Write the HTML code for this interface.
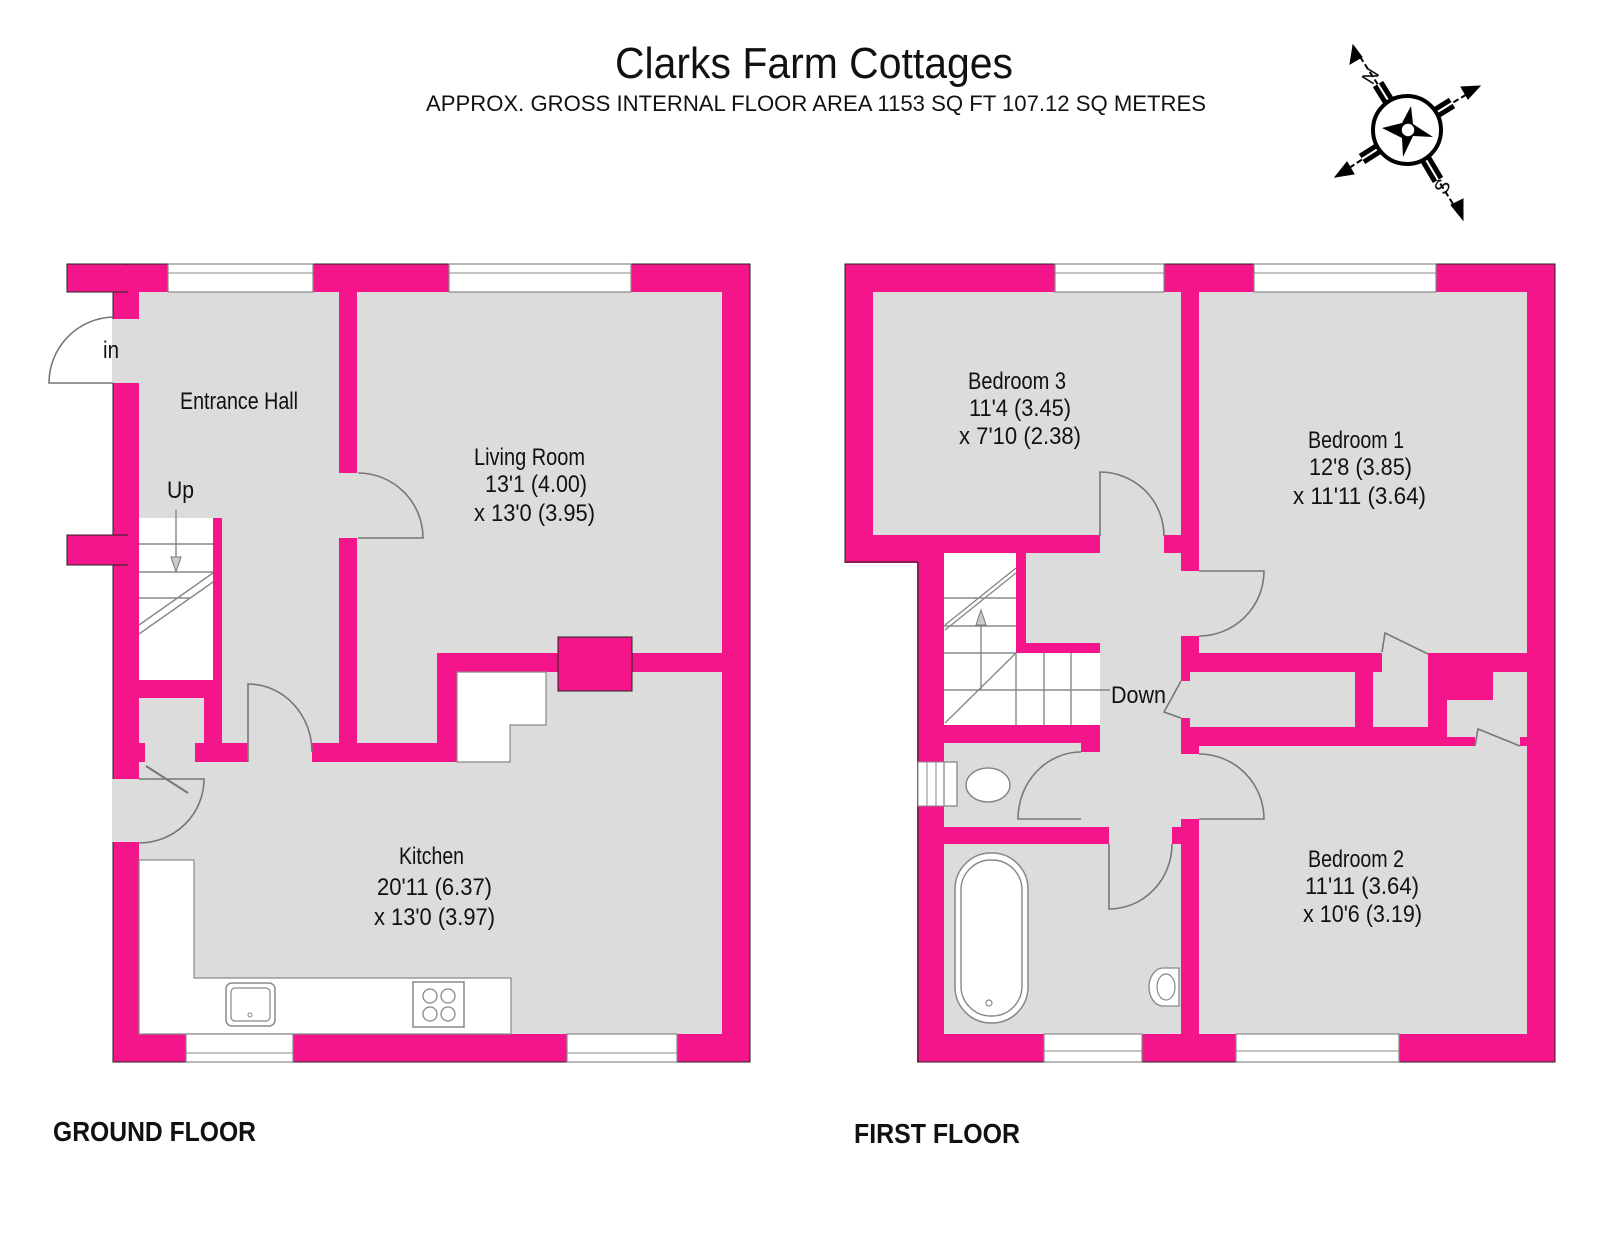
<!DOCTYPE html>
<html><head><meta charset="utf-8"><style>
html,body{margin:0;padding:0;background:#fff;}
svg{display:block;}
text{font-family:"Liberation Sans",Arial,sans-serif;fill:#111;}
</style></head><body>
<svg width="1600" height="1236" viewBox="0 0 1600 1236" xmlns="http://www.w3.org/2000/svg">
<defs>
<style>
.p{fill:#F5158A;stroke:#222;stroke-width:1}
.g{fill:#DCDCDC;stroke:none}
.w{fill:#fff;stroke:none}
.d{fill:none;stroke:#777;stroke-width:1.6}
.l{fill:none;stroke:#888;stroke-width:1.4}
.win{fill:#fff;stroke:#888;stroke-width:1.2}
.t{font-size:24px}
</style>
</defs>

<!-- Titles -->
<text x="814" y="78" font-size="44" text-anchor="middle" textLength="398" lengthAdjust="spacingAndGlyphs">Clarks Farm Cottages</text>
<text x="426" y="111" font-size="22" textLength="780" lengthAdjust="spacingAndGlyphs">APPROX. GROSS INTERNAL FLOOR AREA 1153 SQ FT 107.12 SQ METRES</text>

<!-- Compass -->
<g stroke="#000" fill="#000">
  <line x1="1407" y1="130" x2="1357" y2="52" stroke-width="2" stroke-dasharray="6,3"/>
  <line x1="1407" y1="130" x2="1474" y2="90" stroke-width="2" stroke-dasharray="6,3"/>
  <line x1="1407" y1="130" x2="1340" y2="174" stroke-width="2" stroke-dasharray="6,3"/>
  <line x1="1407" y1="130" x2="1458" y2="212" stroke-width="2" stroke-dasharray="6,3"/>
  <polygon points="1353,45 1350,64 1362,57"/>
  <polygon points="1480,86 1461,87 1468,99"/>
  <polygon points="1335,177 1347,162 1354,174"/>
  <polygon points="1463,220 1451,205 1463,199"/>
  <line x1="1391" y1="105" x2="1378" y2="84" stroke-width="12"/>
  <line x1="1431" y1="116" x2="1452" y2="103" stroke-width="12"/>
  <line x1="1384" y1="145" x2="1362" y2="159" stroke-width="12"/>
  <line x1="1425" y1="158" x2="1438" y2="180" stroke-width="12"/>
</g>
<g stroke="#fff" stroke-width="2">
  <line x1="1391" y1="105" x2="1378" y2="84"/>
  <line x1="1431" y1="116" x2="1452" y2="103"/>
  <line x1="1384" y1="145" x2="1362" y2="159"/>
  <line x1="1425" y1="158" x2="1438" y2="180"/>
</g>
<circle cx="1407" cy="130" r="34" fill="#fff" stroke="#000" stroke-width="4"/>
<polygon points="1411,106 1413,124 1433,137 1413,136 1403,157 1402,138 1382,128 1402,123" fill="#000"/>
<circle cx="1408" cy="130" r="7" fill="#fff" stroke="#000" stroke-width="1.5"/>
<text x="1372" y="82" font-size="20" transform="rotate(-58 1372 77)" text-anchor="middle">N</text>
<text x="1443" y="193" font-size="20" transform="rotate(-58 1443 187)" text-anchor="middle">S</text>

<!-- ================= GROUND FLOOR ================= -->
<rect class="p" x="113" y="264" width="637" height="798"/>
<rect class="p" x="67" y="264" width="60" height="28"/>
<rect class="p" x="67" y="535" width="60" height="30"/>
<rect x="112" y="265" width="16" height="26" fill="#F5158A"/>
<rect x="112" y="536" width="16" height="28" fill="#F5158A"/>

<rect class="g" x="139" y="292" width="200" height="226"/>
<rect class="g" x="222" y="517" width="117" height="226"/>
<rect class="w" x="139" y="518" width="74" height="162" stroke="#888" stroke-width="1"/>
<rect class="g" x="139" y="698" width="65" height="45"/>
<rect class="g" x="145" y="742" width="50" height="21"/>
<rect class="g" x="357" y="292" width="365" height="361"/>
<rect class="g" x="357" y="652" width="80" height="91"/>
<rect class="g" x="339" y="473" width="19" height="65"/>
<rect class="g" x="139" y="762" width="583" height="272"/>
<rect class="g" x="457" y="672" width="265" height="91"/>
<rect class="g" x="248" y="742" width="64" height="21"/>
<rect class="g" x="112" y="319" width="28" height="64"/>
<rect class="g" x="112" y="779" width="28" height="63"/>
<polygon points="457,672 546,672 546,725 510,725 510,762 457,762" fill="#fff" stroke="#888" stroke-width="1.2"/>
<rect class="p" x="558" y="637" width="74" height="54"/>
<rect x="559" y="652" width="72" height="21" fill="#F5158A"/>

<g class="l">
  <line x1="139" y1="544" x2="213" y2="544"/>
  <line x1="139" y1="572" x2="213" y2="572"/>
  <line x1="139" y1="598" x2="190" y2="598"/>
  <line x1="139" y1="625" x2="213" y2="573"/>
  <line x1="139" y1="634" x2="213" y2="582"/>
  <line x1="176" y1="510" x2="176" y2="560"/>
</g>
<polygon points="171,557 181,557 176,572" fill="#ccc" stroke="#777" stroke-width="1"/>

<polygon points="139,860 194,860 194,978 511,978 511,1034 139,1034" fill="#fff" stroke="#888" stroke-width="1.2"/>
<rect x="226" y="983" width="49" height="43" rx="6" fill="#fff" stroke="#888" stroke-width="1.5"/>
<rect x="231" y="988" width="39" height="33" rx="4" fill="none" stroke="#888" stroke-width="1.2"/>
<circle cx="250" cy="1015" r="2" fill="none" stroke="#888"/>
<rect x="413" y="982" width="51" height="45" fill="#fff" stroke="#888" stroke-width="1.5"/>
<g fill="none" stroke="#888" stroke-width="1.3">
<circle cx="430" cy="996" r="7"/><circle cx="448" cy="996" r="7"/>
<circle cx="430" cy="1014" r="7"/><circle cx="448" cy="1014" r="7"/>
</g>

<rect class="win" x="168" y="264" width="145" height="28"/><line x1="168" y1="273" x2="313" y2="273" stroke="#888"/>
<rect class="win" x="449" y="264" width="182" height="28"/><line x1="449" y1="273" x2="631" y2="273" stroke="#888"/>
<rect class="win" x="186" y="1034" width="107" height="28"/><line x1="186" y1="1053" x2="293" y2="1053" stroke="#888"/>
<rect class="win" x="567" y="1034" width="110" height="28"/><line x1="567" y1="1053" x2="677" y2="1053" stroke="#888"/>

<path class="d" d="M113,317 A66,66 0 0 0 49,383 L113,383"/>
<path class="d" d="M358,473 A65,65 0 0 1 423,538 L358,538"/>
<path class="d" d="M248,762 L248,684 A64,68 0 0 1 312,752"/>
<path class="d" d="M139,779 L204,779 A65,64 0 0 1 139,843"/>
<line x1="146" y1="766" x2="188" y2="793" stroke="#777" stroke-width="2"/>

<text class="t" x="103" y="358" textLength="16" lengthAdjust="spacingAndGlyphs">in</text>
<text class="t" x="180" y="409" textLength="118" lengthAdjust="spacingAndGlyphs">Entrance Hall</text>
<text class="t" x="167" y="498" textLength="27" lengthAdjust="spacingAndGlyphs">Up</text>
<text class="t" x="474" y="465" textLength="111" lengthAdjust="spacingAndGlyphs">Living Room</text>
<text class="t" x="485" y="492" textLength="102" lengthAdjust="spacingAndGlyphs">13'1 (4.00)</text>
<text class="t" x="474" y="521" textLength="121" lengthAdjust="spacingAndGlyphs">x 13'0 (3.95)</text>
<text class="t" x="399" y="864" textLength="65" lengthAdjust="spacingAndGlyphs">Kitchen</text>
<text class="t" x="377" y="895" textLength="115" lengthAdjust="spacingAndGlyphs">20'11 (6.37)</text>
<text class="t" x="374" y="925" textLength="121" lengthAdjust="spacingAndGlyphs">x 13'0 (3.97)</text>

<!-- ================= FIRST FLOOR ================= -->
<rect class="p" x="845" y="264" width="710" height="798"/>
<rect x="844" y="563" width="73" height="500" fill="#fff"/>
<line x1="845" y1="562" x2="918" y2="562" stroke="#222"/>
<line x1="918" y1="562" x2="918" y2="1062" stroke="#222"/>

<rect class="g" x="873" y="292" width="308" height="243"/>
<rect class="g" x="1199" y="292" width="328" height="361"/>
<rect class="g" x="1100" y="534" width="64" height="20"/>
<rect class="g" x="1100" y="553" width="81" height="274"/>
<rect class="g" x="1026" y="553" width="75" height="90"/>
<rect class="g" x="1180" y="571" width="20" height="65"/>
<rect class="w" x="944" y="553" width="72" height="172"/>
<rect class="w" x="1015" y="653" width="85" height="72"/>
<rect class="g" x="944" y="743" width="137" height="84"/>
<rect class="g" x="1080" y="752" width="21" height="75"/>
<rect class="g" x="944" y="844" width="237" height="190"/>
<rect class="g" x="1109" y="826" width="63" height="19"/>
<rect class="g" x="1180" y="681" width="11" height="37"/>
<rect class="g" x="1190" y="672" width="165" height="55"/>
<rect class="g" x="1373" y="672" width="55" height="55"/>
<rect class="g" x="1382" y="652" width="46" height="21"/>
<rect class="g" x="1447" y="700" width="80" height="37"/>
<rect class="g" x="1493" y="672" width="34" height="29"/>
<rect class="g" x="1475" y="736" width="45" height="11"/>
<rect class="g" x="1199" y="746" width="328" height="288"/>
<rect class="g" x="1180" y="754" width="20" height="65"/>
<rect x="918" y="762" width="26" height="44" fill="#fff" stroke="#888" stroke-width="1"/>
<line x1="927" y1="762" x2="927" y2="806" stroke="#888"/>
<line x1="936" y1="762" x2="936" y2="806" stroke="#888"/>

<g class="l">
  <line x1="944" y1="598" x2="1016" y2="598"/>
  <line x1="944" y1="626" x2="1016" y2="626"/>
  <line x1="944" y1="653" x2="1016" y2="653"/>
  <line x1="944" y1="690" x2="1110" y2="690"/>
  <line x1="1016" y1="653" x2="1016" y2="725"/>
  <line x1="1044" y1="653" x2="1044" y2="725"/>
  <line x1="1071" y1="653" x2="1071" y2="725"/>
  <line x1="945" y1="723" x2="1016" y2="653"/>
  <line x1="945" y1="630" x2="1016" y2="573"/>
  <line x1="945" y1="625" x2="1016" y2="568"/>
  <line x1="981" y1="690" x2="981" y2="622"/>
</g>
<polygon points="976,625 986,625 981,610" fill="#ccc" stroke="#777" stroke-width="1"/>

<rect x="944" y="762" width="13" height="44" fill="#fff" stroke="#888" stroke-width="1.3"/>
<ellipse cx="988" cy="785" rx="22" ry="17" fill="#fff" stroke="#888" stroke-width="1.5"/>
<rect x="955" y="853" width="73" height="170" rx="36" fill="#fff" stroke="#888" stroke-width="1.5"/>
<rect x="961" y="860" width="61" height="156" rx="30" fill="#fff" stroke="#888" stroke-width="1.4"/>
<circle cx="989" cy="1003" r="3" fill="none" stroke="#888" stroke-width="1.2"/>
<path d="M1179,968 L1163,968 A14,19 0 0 0 1163,1006 L1179,1006 Z" fill="#fff" stroke="#888" stroke-width="1.3"/>
<ellipse cx="1166" cy="987" rx="9" ry="13" fill="#fff" stroke="#888" stroke-width="1.2"/>

<rect class="win" x="1055" y="264" width="109" height="28"/><line x1="1055" y1="273" x2="1164" y2="273" stroke="#888"/>
<rect class="win" x="1254" y="264" width="182" height="28"/><line x1="1254" y1="273" x2="1436" y2="273" stroke="#888"/>
<rect class="win" x="1044" y="1034" width="98" height="28"/><line x1="1044" y1="1051" x2="1142" y2="1051" stroke="#888"/>
<rect class="win" x="1236" y="1034" width="163" height="28"/><line x1="1236" y1="1051" x2="1399" y2="1051" stroke="#888"/>

<path class="d" d="M1100,536 L1100,472 A64,64 0 0 1 1164,536"/>
<path class="d" d="M1199,571 L1264,571 A65,65 0 0 1 1199,636"/>
<path class="d" d="M1199,754 A65,65 0 0 1 1264,819 L1199,819"/>
<path class="d" d="M1081,752 A63,67 0 0 0 1018,819 L1081,819"/>
<path class="d" d="M1109,844 L1109,909 A63,65 0 0 0 1172,844"/>
<path class="d" d="M1181,681 L1164,712 L1181,718"/>
<path class="d" d="M1382,652 L1385,633 L1428,654"/>
<path class="d" d="M1475,746 L1478,729 L1520,746"/>

<text class="t" x="1111" y="703" textLength="55" lengthAdjust="spacingAndGlyphs">Down</text>
<text class="t" x="968" y="389" textLength="98" lengthAdjust="spacingAndGlyphs">Bedroom 3</text>
<text class="t" x="969" y="416" textLength="102" lengthAdjust="spacingAndGlyphs">11'4 (3.45)</text>
<text class="t" x="959" y="444" textLength="122" lengthAdjust="spacingAndGlyphs">x 7'10 (2.38)</text>
<text class="t" x="1308" y="448" textLength="96" lengthAdjust="spacingAndGlyphs">Bedroom 1</text>
<text class="t" x="1309" y="475" textLength="103" lengthAdjust="spacingAndGlyphs">12'8 (3.85)</text>
<text class="t" x="1293" y="504" textLength="133" lengthAdjust="spacingAndGlyphs">x 11'11 (3.64)</text>
<text class="t" x="1308" y="867" textLength="96" lengthAdjust="spacingAndGlyphs">Bedroom 2</text>
<text class="t" x="1305" y="894" textLength="114" lengthAdjust="spacingAndGlyphs">11'11 (3.64)</text>
<text class="t" x="1303" y="922" textLength="119" lengthAdjust="spacingAndGlyphs">x 10'6 (3.19)</text>

<text x="53" y="1141" font-size="28" font-weight="bold" textLength="203" lengthAdjust="spacingAndGlyphs">GROUND FLOOR</text>
<text x="854" y="1143" font-size="28" font-weight="bold" textLength="166" lengthAdjust="spacingAndGlyphs">FIRST FLOOR</text>
</svg>
</body></html>
